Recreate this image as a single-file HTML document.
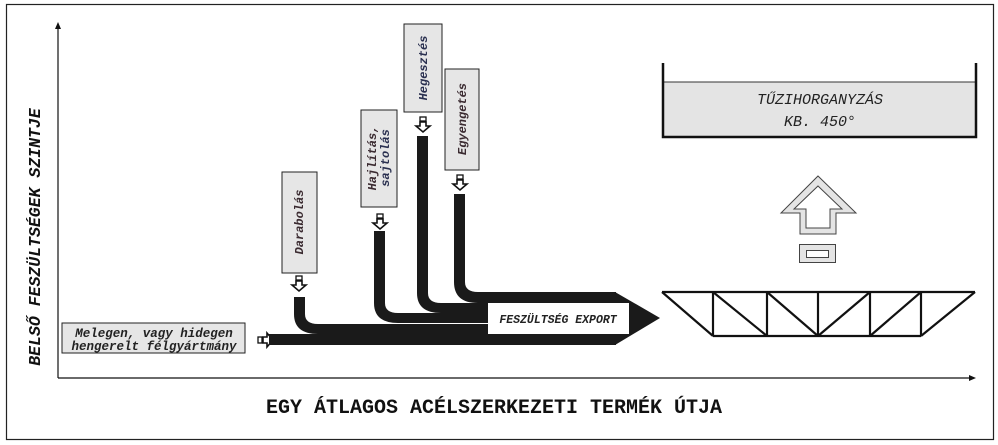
<!DOCTYPE html>
<html><head><meta charset="utf-8"><style>
html,body{margin:0;padding:0;background:#fff;}
svg{display:block;}
text{font-family:"Liberation Mono",monospace;}
</style></head><body>
<svg width="998" height="445" viewBox="0 0 998 445" xmlns="http://www.w3.org/2000/svg">
<defs>
<g id="sa">
<rect x="-3" y="0" width="6" height="4" fill="#fff" stroke="#111" stroke-width="1.3"/>
<polygon points="-3,5 3,5 3,9 7,9 0,15 -7,9 -3,9" fill="#fff" stroke="#111" stroke-width="1.6"/>
</g>
</defs>
<rect x="6.5" y="4.5" width="987" height="435" fill="#fff" stroke="#222" stroke-width="1.2"/>
<!-- axes -->
<line x1="58" y1="378" x2="58" y2="28" stroke="#111" stroke-width="1.2"/>
<polygon points="55,29 61,29 58,22" fill="#111"/>
<line x1="58" y1="378" x2="970" y2="378" stroke="#111" stroke-width="1.2"/>
<polygon points="969,375 969,381 976,378" fill="#111"/>
<text x="0" y="0" transform="translate(40,237) rotate(-90)" text-anchor="middle" font-size="16.5" font-weight="bold" font-style="italic" fill="#111">BELSŐ FESZÜLTSÉGEK SZINTJE</text>
<text x="494" y="413" text-anchor="middle" font-size="20" font-weight="bold" fill="#111" font-family="Liberation Mono, monospace">EGY ÁTLAGOS ACÉLSZERKEZETI TERMÉK ÚTJA</text>

<!-- input box -->
<rect x="62" y="323" width="183" height="30" fill="#e6e6e6" stroke="#222" stroke-width="1"/>
<text x="154" y="337" text-anchor="middle" font-size="12.5" font-weight="bold" font-style="italic" fill="#222">Melegen, vagy hidegen</text>
<text x="154" y="350" text-anchor="middle" font-size="12.5" font-weight="bold" font-style="italic" fill="#222">hengerelt félgyártmány</text>
<g transform="translate(258,340) rotate(-90)"><use href="#sa"/></g>

<!-- flows -->
<g fill="#1a1a1a">
<rect x="269" y="334" width="347" height="11"/>
<path d="M294,297 H305 V314 Q305,324 318,324 H616 V334 H318 Q294,334 294,314 Z"/>
<path d="M374,231 H385 V303 Q385,313 398,313 H616 V323 H398 Q374,323 374,303 Z"/>
<path d="M417,136 H428 V293 Q428,303 441,303 H616 V313 H441 Q417,313 417,293 Z"/>
<path d="M454,194 H465 V282 Q465,292 478,292 H616 V303 H478 Q454,303 454,282 Z"/>
<polygon points="615,292 660,318 615,345"/>
</g>
<rect x="488" y="303" width="141" height="31" fill="#fff"/>
<text x="558" y="323" text-anchor="middle" font-size="11.5" font-weight="bold" font-style="italic" fill="#222">FESZÜLTSÉG EXPORT</text>

<!-- process boxes -->
<rect x="282" y="172" width="35" height="101" fill="#e6e6e6" stroke="#222" stroke-width="1"/>
<text transform="translate(303,222) rotate(-90)" text-anchor="middle" font-size="12" font-weight="bold" font-style="italic" fill="#3a2a30">Darabolás</text>
<g transform="translate(299,276)"><use href="#sa"/></g>

<rect x="361" y="110" width="36" height="97" fill="#e6e6e6" stroke="#222" stroke-width="1"/>
<text transform="translate(376,158) rotate(-90)" text-anchor="middle" font-size="12" font-weight="bold" font-style="italic" fill="#3a2a30">Hajlítás,</text>
<text transform="translate(389,158) rotate(-90)" text-anchor="middle" font-size="12" font-weight="bold" font-style="italic" fill="#2a3050">sajtolás</text>
<g transform="translate(380,214)"><use href="#sa"/></g>

<rect x="404" y="24" width="38" height="88" fill="#e6e6e6" stroke="#222" stroke-width="1"/>
<text transform="translate(427,68) rotate(-90)" text-anchor="middle" font-size="12" font-weight="bold" font-style="italic" fill="#2a3050">Hegesztés</text>
<g transform="translate(423,117)"><use href="#sa"/></g>

<rect x="445" y="69" width="34" height="101" fill="#e6e6e6" stroke="#222" stroke-width="1"/>
<text transform="translate(466,119) rotate(-90)" text-anchor="middle" font-size="12" font-weight="bold" font-style="italic" fill="#3a2a30">Egyengetés</text>
<g transform="translate(460,175)"><use href="#sa"/></g>

<!-- tank -->
<rect x="663" y="82" width="313" height="55" fill="#e4e4e4"/>
<line x1="663" y1="82" x2="976" y2="82" stroke="#333" stroke-width="1"/>
<path d="M663,63 V137 H976 V63" fill="none" stroke="#111" stroke-width="2.5"/>
<text x="820" y="104" text-anchor="middle" font-size="15" font-style="italic" fill="#222">TŰZIHORGANYZÁS</text>
<text x="820" y="126" text-anchor="middle" font-size="15" font-style="italic" fill="#222">KB. 450°</text>

<!-- big arrow -->
<polygon points="818,176 856,213 836,213 836,234 800,234 800,213 781,213" fill="#e4e4e4" stroke="#444" stroke-width="1"/>
<polygon points="818,186 842,209 830,209 830,228 806,228 806,209 794,209" fill="#fff" stroke="#444" stroke-width="1"/>
<rect x="799.5" y="244.5" width="36" height="18" fill="#e4e4e4" stroke="#444" stroke-width="1"/>
<rect x="806.5" y="250.5" width="22" height="7" fill="#fff" stroke="#444" stroke-width="1"/>

<!-- truss -->
<g stroke="#111" stroke-width="2.2" fill="none">
<line x1="662" y1="292" x2="975" y2="292"/>
<line x1="713" y1="336" x2="921" y2="336"/>
<line x1="713" y1="292" x2="713" y2="336"/>
<line x1="767" y1="292" x2="767" y2="336"/>
<line x1="818" y1="292" x2="818" y2="336"/>
<line x1="870" y1="292" x2="870" y2="336"/>
<line x1="921" y1="292" x2="921" y2="336"/>
<line x1="662" y1="292" x2="713" y2="336"/>
<line x1="713" y1="292" x2="767" y2="336"/>
<line x1="767" y1="292" x2="818" y2="336"/>
<line x1="818" y1="336" x2="870" y2="292"/>
<line x1="870" y1="336" x2="921" y2="292"/>
<line x1="921" y1="336" x2="975" y2="292"/>
</g>
</svg>
</body></html>
